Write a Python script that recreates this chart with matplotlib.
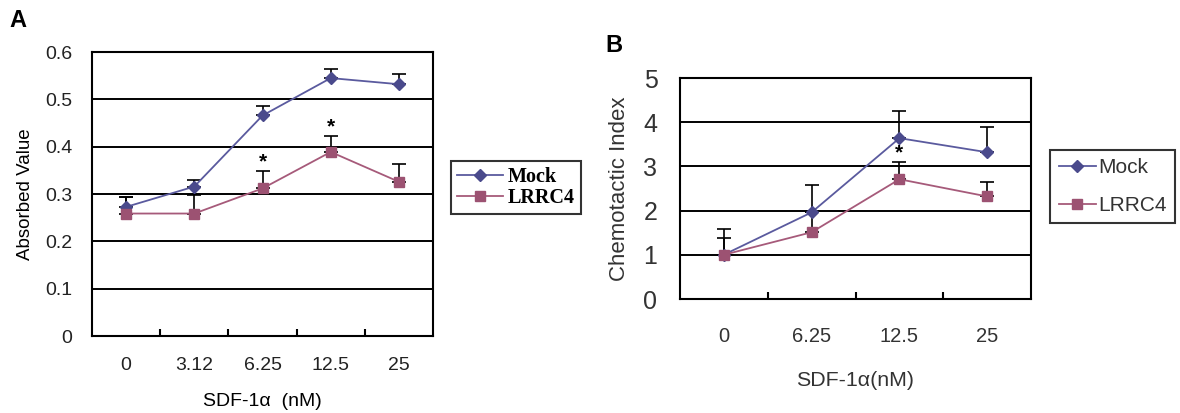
import matplotlib
matplotlib.use("Agg")
import matplotlib.pyplot as plt
import numpy as np

# panel A data
doses_a = ["0", "3.12", "6.25", "12.5", "25"]
mock_a = [0.273, 0.316, 0.466, 0.545, 0.532]
mock_a_err = [0.02, 0.013, 0.021, 0.02, 0.021]
lrrc4_a = [0.259, 0.259, 0.312, 0.389, 0.326]
lrrc4_a_err = [0.035, 0.04, 0.037, 0.034, 0.038]
stars_a = [(2, 0.368), (3, 0.442)]

# panel B data
doses_b = ["0", "6.25", "12.5", "25"]
mock_b = [1.0, 1.96, 3.64, 3.32]
mock_b_err = [0.59, 0.61, 0.62, 0.58]
lrrc4_b = [1.0, 1.51, 2.71, 2.32]
lrrc4_b_err = [0.38, 0.45, 0.38, 0.32]
stars_b = [(2, 3.3)]

mock_color = "#5a5a9e"
lrrc4_color = "#a65a7a"
sans = ["Liberation Sans", "DejaVu Sans"]
grey_text = "#333333"

fig = plt.figure(figsize=(11.8, 4.13), dpi=100)


def draw_panel(ax, doses, mock, mock_err, lrrc4, lrrc4_err):
    x = np.arange(len(doses)) + 0.5
    ax.errorbar(x, mock, yerr=[np.zeros(len(x)), mock_err], fmt="none",
                ecolor="black", elinewidth=1.2, capsize=5, capthick=1.2, zorder=3)
    ax.errorbar(x, lrrc4, yerr=[np.zeros(len(x)), lrrc4_err], fmt="none",
                ecolor="black", elinewidth=1.2, capsize=5, capthick=1.2, zorder=3)
    l1, = ax.plot(x, mock, color=mock_color, marker="D", markersize=6, lw=1.3,
                  markerfacecolor="#4a4a8c", markeredgecolor="#4a4a8c",
                  label="Mock", zorder=4)
    l2, = ax.plot(x, lrrc4, color=lrrc4_color, marker="s", markersize=7, lw=1.3,
                  markerfacecolor="#9c5272", markeredgecolor="#9c5272",
                  label="LRRC4", zorder=4)
    ax.set_xlim(0, len(doses))
    ax.set_xticks(np.arange(1, len(doses)))
    ax.set_xticklabels([])
    ax.set_xticks(x, minor=True)
    ax.set_xticklabels(doses, minor=True)
    ax.tick_params(axis="x", which="major", direction="in", length=5, width=1.5)
    ax.tick_params(axis="y", length=0)
    ax.yaxis.grid(True, color="black", lw=1.4)
    ax.set_axisbelow(True)
    for s in ax.spines.values():
        s.set_linewidth(1.5)
    return l1, l2


# panel A
ax_a = fig.add_axes([0.078, 0.186, 0.289, 0.688])
h = draw_panel(ax_a, doses_a, mock_a, mock_a_err, lrrc4_a, lrrc4_a_err)
ax_a.set_ylim(0, 0.6)
ax_a.set_yticks(np.arange(0, 0.61, 0.1))
ax_a.set_yticklabels(["0", "0.1", "0.2", "0.3", "0.4", "0.5", "0.6"])
ax_a.tick_params(axis="x", which="minor", length=0, pad=15)
ax_a.tick_params(axis="y", pad=14)
for t in ax_a.get_yticklabels() + ax_a.get_xticklabels(minor=True):
    t.set_family(sans)
    t.set_fontsize(14)
    t.set_color("#222222")
ax_a.set_ylabel("Absorbed Value", family=sans, fontsize=13.5, labelpad=8)
ax_a.set_xlabel("SDF-1α  (nM)", family=sans, fontsize=14, labelpad=14)
for i, y in stars_a:
    ax_a.text(i + 0.5, y, "*", ha="center", va="center", fontsize=15,
              fontweight="bold", family=sans)
fig.text(0.008, 0.935, "A", fontsize=17, fontweight="bold", family=sans)
leg_a = fig.legend(handles=h, loc="upper left", bbox_to_anchor=(0.382, 0.610),
                   borderaxespad=0,
                   prop={"family": ["Liberation Serif", "DejaVu Serif"],
                         "weight": "bold", "size": 14.5},
                   frameon=True, fancybox=False, edgecolor="black",
                   handlelength=2.3, handletextpad=0.25, borderpad=0.3,
                   labelspacing=0.05)
leg_a.get_frame().set_linewidth(1.5)

# panel B
ax_b = fig.add_axes([0.576, 0.276, 0.298, 0.535])
h = draw_panel(ax_b, doses_b, mock_b, mock_b_err, lrrc4_b, lrrc4_b_err)
ax_b.set_ylim(0, 5)
ax_b.set_yticks(range(6))
ax_b.tick_params(axis="x", which="minor", length=0, pad=20)
ax_b.tick_params(axis="y", pad=16)
for t in ax_b.get_yticklabels():
    t.set_family(sans)
    t.set_fontsize(18)
    t.set_color(grey_text)
for t in ax_b.get_xticklabels(minor=True):
    t.set_family(sans)
    t.set_fontsize(14.5)
    t.set_color(grey_text)
ax_b.set_ylabel("Chemotactic Index", family=sans, fontsize=16, labelpad=10,
                color=grey_text)
ax_b.set_xlabel("SDF-1α(nM)", family=sans, fontsize=15.4, labelpad=18,
                color=grey_text)
for i, y in stars_b:
    ax_b.text(i + 0.5, y, "*", ha="center", va="center", fontsize=15,
              fontweight="bold", family=sans)
fig.text(0.513, 0.875, "B", fontsize=17, fontweight="bold", family=sans)
leg_b = fig.legend(handles=h, loc="upper left", bbox_to_anchor=(0.890, 0.637),
                   borderaxespad=0,
                   prop={"family": sans, "size": 15},
                   labelcolor=grey_text,
                   frameon=True, fancybox=False, edgecolor="black",
                   handlelength=1.8, handletextpad=0.1, borderpad=0.4,
                   labelspacing=0.9)
leg_b.get_frame().set_linewidth(1.5)

fig.savefig("out.png", dpi=100)
